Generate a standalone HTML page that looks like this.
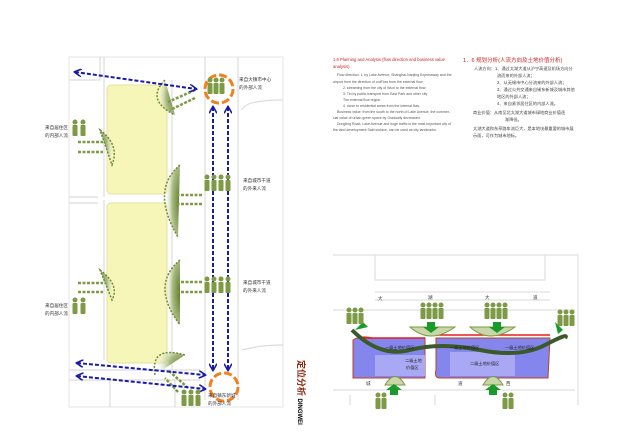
<!DOCTYPE html>
<html><head><meta charset="utf-8"><style>
body{margin:0;background:#fff;width:620px;height:438px;overflow:hidden;font-family:"Liberation Sans","Noto Sans CJK SC",sans-serif}
</style></head><body>
<svg width="620" height="438" xmlns="http://www.w3.org/2000/svg" font-family="Liberation Sans, Noto Sans CJK SC, sans-serif">
<defs>
<marker id="ah" viewBox="0 0 10 10" refX="8" refY="5" markerWidth="4" markerHeight="4" orient="auto-start-reverse"><path d="M0,0 L9,5 L0,10" fill="none" stroke="#1a1aa8" stroke-width="2"/></marker>
<radialGradient id="fan" cx="0" cy="0.5" r="1"><stop offset="0" stop-color="#5e7a2e"/><stop offset="0.5" stop-color="#a8bb80"/><stop offset="1" stop-color="#fff" stop-opacity="0"/></radialGradient>
<radialGradient id="fanL" cx="1" cy="0.5" r="1"><stop offset="0" stop-color="#5e7a2e"/><stop offset="0.5" stop-color="#a8bb80"/><stop offset="1" stop-color="#fff" stop-opacity="0"/></radialGradient>
<g id="p"><circle cx="0" cy="0" r="2.5"/><rect x="-2.5" y="3" width="5" height="11" rx="1"/></g>
</defs>
<rect x="69" y="57" width="214" height="350" fill="#fff" stroke="#e4e4e4"/>
<g stroke="#dcdcdc" stroke-width="1.2" fill="none">
<path d="M69,80 L100,80 L100,57"/><path d="M104,57 V197 M104,200 V360"/><path d="M98,197 H69 M98,203 H69"/>
<path d="M172,80 V370"/><path d="M205,57 V400 M238,57 V400"/><path d="M242,110 Q245,100 283,100"/><path d="M242,350 Q260,345 283,345"/>
<path d="M69,370 H200 M69,380 H200"/><path d="M110,380 V407 M175,380 V407"/>
</g>
<rect x="107" y="85" width="60" height="109" rx="4" fill="#f6f6b8" stroke="#e3e3a0"/>
<rect x="107" y="203" width="60" height="160" rx="4" fill="#f6f6b8" stroke="#e3e3a0"/>
<g stroke="#6f8a3a" stroke-width="1.5" stroke-dasharray="2 1.5" fill="url(#fanL)">
<path d="M100,130 Q120,145 112,165 Z" fill="url(#fan)"/>
<path d="M100,270 Q120,285 112,300 Z" fill="url(#fan)"/>
<path d="M180,165 Q150,190 178,237" />
<path d="M180,260 Q150,285 180,325" />
<path d="M165,80 Q145,100 175,115" />
<path d="M185,355 Q150,345 155,375" />
</g>
<g stroke="#7d9a45" stroke-width="2.5" stroke-dasharray="3 1.5">
<path d="M78,142 H103 M78,152 H103 M78,283 H103 M78,292 H103"/>
<path d="M202,195 H176 M202,204 H176 M202,282 H176 M202,292 H176"/>
<path d="M195,90 L168,102 M195,98 L170,110 M188,388 L168,370 M178,392 L165,378"/>
</g>
<g stroke="#1a1aa8" stroke-width="2" stroke-dasharray="4 2" fill="none" marker-start="url(#ah)" marker-end="url(#ah)">
<path d="M75,72 L196,89"/><path d="M77,363 L205,375"/><path d="M77,376 L205,389"/>
<path d="M213,107 V370"/><path d="M228,107 V370"/>
</g>
<circle cx="219" cy="89" r="14" fill="none" stroke="#f08020" stroke-width="3" stroke-dasharray="8 3"/>
<circle cx="224" cy="387" r="14" fill="none" stroke="#f08020" stroke-width="3" stroke-dasharray="8 3"/>
<g fill="#7d9a45">
<use href="#p" x="210" y="80"/><use href="#p" x="216" y="80"/><use href="#p" x="222" y="80"/>
<use href="#p" x="75" y="122"/><use href="#p" x="83" y="122"/>
<use href="#p" x="207" y="177"/><use href="#p" x="214" y="177"/><use href="#p" x="221" y="177"/><use href="#p" x="228" y="177"/>
<use href="#p" x="207" y="279"/><use href="#p" x="214" y="279"/><use href="#p" x="221" y="279"/><use href="#p" x="228" y="279"/>
<use href="#p" x="75" y="300"/><use href="#p" x="83" y="300"/>
<use href="#p" x="184" y="392"/><use href="#p" x="191" y="392"/><use href="#p" x="198" y="392"/>
</g>
<g font-size="4.6" fill="#333">
<text x="239" y="81">来自大镇市中心</text><text x="239" y="89">的外部人流</text>
<text x="45" y="129">来自居住区</text><text x="45" y="137">的内部人流</text>
<text x="243" y="182">来自城市干道</text><text x="243" y="190">的外来人流</text>
<text x="243" y="284">来自城市干道</text><text x="243" y="292">的外来人流</text>
<text x="45" y="307">来自居住区</text><text x="45" y="315">的内部人流</text>
<text x="208" y="397">来自镇东新城</text><text x="208" y="405">的外部人流</text>
</g>
<text transform="translate(298,360) rotate(90)" font-size="9" font-weight="bold" fill="#8a2a10">定位分析 <tspan font-size="6" fill="#000">DINGWEI</tspan></text>
<g font-size="3.5" fill="#555">
<text x="333" y="61" fill="#d02020" font-size="4.2">1.6 Planning and Analysis (flow direction and business value</text>
<text x="333" y="68" fill="#d02020" font-size="4.2">analysis)</text>
<text x="337" y="76">Flow direction: 1, by Lake Avenue, Shanghai-Nanjing Expressway and the</text>
<text x="333" y="83">airport from the direction of outFlow from the external flow;</text>
<text x="343" y="89">2. streaming from the city of Wuxi to the external flow;</text>
<text x="343" y="95">3. Tin by public transport from East Park and other city</text>
<text x="343" y="101">The external flow region</text>
<text x="343" y="107">4. close to residential areas from the internal flow.</text>
<text x="337" y="113">Business value: from the south to the north of Lake Avenue, the commer-</text>
<text x="333" y="119">cial value of urban green space by Gradually decreased.</text>
<text x="337" y="125">Dongting Road, Lake Avenue and huge traffic is the most important city of</text>
<text x="333" y="131">the land development Said surface, can be used as city landmarks.</text>
</g>
<g font-size="4.2" fill="#444">
<text x="463" y="62" fill="#d02020" font-size="5.5">1．6 规划分析(人流方向及土地价值分析)</text>
<text x="474" y="70">人流方向：1、通过太湖大道从沪宁高速及机场方向分</text>
<text x="497" y="77">流而来的外部人流；</text>
<text x="497" y="84">2、从无锡市中心分流来的外部人流；</text>
<text x="497" y="91">3、通过公共交通来自锡东新城及城市其他</text>
<text x="497" y="98">地区的外部人流；</text>
<text x="497" y="105">4、来自紧邻居住区的内部人流。</text>
<text x="473" y="114">商业价值：从南至北太湖大道城市绿地商业价值逐</text>
<text x="505" y="121">渐降低。</text>
<text x="473" y="130">太湖大道和东亭路车流巨大，是本地块最重要的城市展</text>
<text x="473" y="137">示面，可作为城市地标。</text>
</g>
<g stroke="#e0e0e0" fill="none" stroke-width="1.2">
<path d="M333,255 H578 V405"/><path d="M375,255 V280 H545 V255"/>
<path d="M375,292 H550 M375,300 H550"/><path d="M333,310 H575 M333,390 H575"/><path d="M350,395 V405 M435,395 V405"/>
</g>
<g font-size="4.5" fill="#333"><text x="378" y="300">大</text><text x="428" y="299">湖</text><text x="485" y="299">大</text><text x="533" y="299">道</text><text x="366" y="385">城</text><text x="458" y="385">道</text><text x="506" y="385">西</text></g>
<path d="M353,340 Q360,335 373,338 H425 V378 H353 Z" fill="#8585ee" stroke="#c04020"/>
<path d="M436,338 H550 L548,378 H440 Q434,378 436,370 Z" fill="#8585ee" stroke="#c04020"/>
<path d="M375,355 H425 V376 H375 Z M450,352 H515 V376 H450 Z" fill="#a8a8f5"/>
<path d="M358,338 H425 M436,335 H550" stroke="#e02020" stroke-width="1.5"/>
<path d="M352,330 Q380,358 410,350 T480,350 T545,345 T565,338" fill="none" stroke="#3a5a2a" stroke-width="4"/>
<g font-size="4.2" fill="#222"><text x="385" y="349">一级土地价值区</text><text x="450" y="349">一级土地价值区</text><text x="505" y="349">一级土地价值区</text><text x="405" y="362">二级土地</text><text x="406" y="369">价值区</text><text x="470" y="365">二级土地价值区</text></g>
<g fill="#c8d6a8" stroke="#7d9a45" stroke-width="1">
<path d="M410,327 Q430,345 455,327 Z"/><path d="M470,327 Q490,345 515,327 Z"/><path d="M385,385 Q395,368 405,385 Z"/><path d="M483,385 Q493,368 503,385 Z"/>
</g>
<g fill="#1a9a2a"><path d="M427,322 h8 v5 h4 l-8,6 l-8,-6 h4 z"/><path d="M493,322 h8 v5 h4 l-8,6 l-8,-6 h4 z"/><path d="M390,395 h8 v-5 h4 l-8,-6 l-8,6 h4 z"/><path d="M489,395 h8 v-5 h4 l-8,-6 l-8,6 h4 z"/><path d="M355,330 l8,-8 l5,5 z"/><path d="M555,322 l8,8 l-5,4 z"/></g>
<g fill="#7d9a45">
<use href="#p" x="349" y="310"/><use href="#p" x="355" y="310"/><use href="#p" x="361" y="310"/>
<use href="#p" x="423" y="305"/><use href="#p" x="429" y="305"/><use href="#p" x="435" y="305"/><use href="#p" x="441" y="305"/>
<use href="#p" x="487" y="305"/><use href="#p" x="493" y="305"/><use href="#p" x="499" y="305"/><use href="#p" x="505" y="305"/>
<use href="#p" x="560" y="312"/><use href="#p" x="566" y="312"/><use href="#p" x="572" y="312"/>
<use href="#p" x="378" y="395"/><use href="#p" x="384" y="395"/><use href="#p" x="505" y="395"/><use href="#p" x="511" y="395"/>
</g>
</svg>
</body></html>
